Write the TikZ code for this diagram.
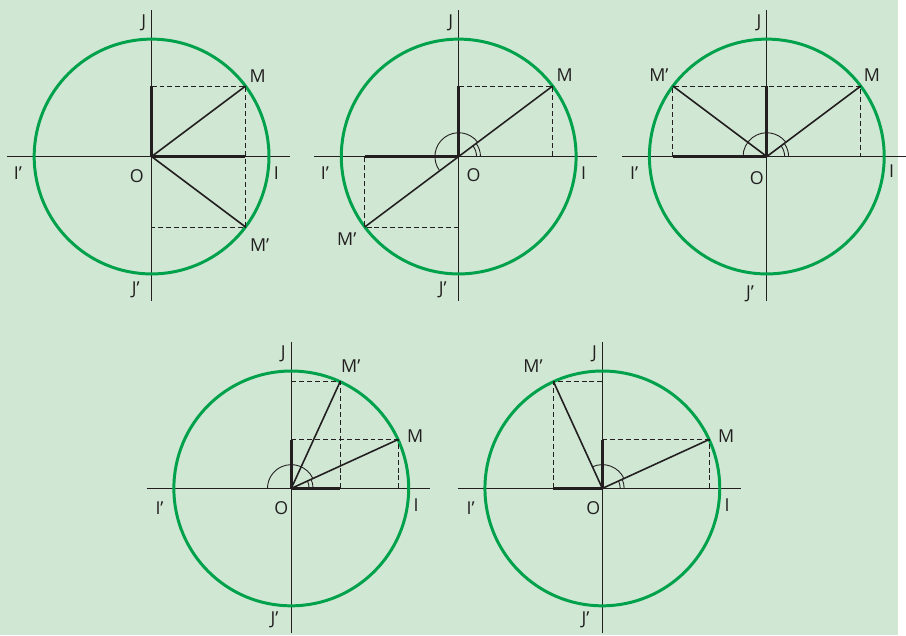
\documentclass[tikz,border=0pt]{standalone}
\usepackage{fontspec}
\setmainfont{Open Sans}
\usepackage{tikz}
\usetikzlibrary{calc}
\definecolor{bggreen}{RGB}{207,231,211}
\definecolor{circgreen}{RGB}{0,161,75}
\definecolor{inkgray}{RGB}{35,31,32}
\newcommand{\lblfont}{\fontsize{18pt}{21pt}\selectfont}

\begin{document}
\begin{tikzpicture}[x=1pt, y=1pt,
  axis/.style={draw=inkgray, line width=1pt},
  circ/.style={draw=circgreen, line width=3pt},
  rayline/.style={draw=inkgray, line width=1.6pt},
  proj/.style={draw=inkgray, line width=3pt},
  guide/.style={draw=inkgray, line width=0.9pt, dash pattern=on 5pt off 3pt},
  anglemark/.style={draw=inkgray, line width=0.9pt},
  lbl/.style={font=\lblfont, text=inkgray, inner sep=0pt}
]
\def\R{118.5}

% === background ==============================================================
\fill[bggreen] (0,0) rectangle (906,641);

% === Panel 1 : M and M' symmetric about (OI) =================================
\begin{scope}[shift={(153,483)}]
  \coordinate (O1)  at (0,0);
  \coordinate (M1)  at (36.87:\R);
  \coordinate (Mp1) at (-36.87:\R);
  \draw[axis] (-146,0) -- (140,0);
  \draw[axis] (0,-146) -- (0,148);
  \draw[circ] (O1) circle (\R);
  \draw[guide] (O1 |- M1) -- (M1) -- (Mp1) -- (O1 |- Mp1);
  \draw[proj] (O1) -- (O1 |- M1);
  \draw[proj] (O1) -- (O1 -| M1);
  \draw[rayline] (O1) -- (M1);
  \draw[rayline] (O1) -- (Mp1);
  \node[lbl] (lJ1)  at (-8,135)    {J};
  \node[lbl] (lJp1) at (-16,-135)  {J’};
  \node[lbl] (lI1)  at (126,-17)   {I};
  \node[lbl] (lIp1) at (-135,-17)  {I’};
  \node[lbl] (lO1)  at (-15,-20)   {O};
  \node[lbl] (lM1)  at (107,81)    {M};
  \node[lbl] (lMp1) at (109,-89)   {M’};
\end{scope}

% === Panel 2 : M' = M + pi ===================================================
\begin{scope}[shift={(463,483)}]
  \coordinate (O2)  at (0,0);
  \coordinate (M2)  at (36.87:\R);
  \coordinate (Mp2) at (216.87:\R);
  \draw[axis] (-146,0) -- (140,0);
  \draw[axis] (0,-146) -- (0,148);
  \draw[circ] (O2) circle (\R);
  \draw[guide] (O2 |- M2) -- (M2) -- (M2 |- O2);
  \draw[guide] (O2 |- Mp2) -- (Mp2) -- (Mp2 |- O2);
  \draw[proj] (O2) -- (O2 |- M2);
  \draw[proj] (O2) -- (O2 -| Mp2);
  \draw[rayline] (Mp2) -- (M2);
  \draw[anglemark] (0:18) arc (0:36.87:18);
  \draw[anglemark] (0:22) arc (0:36.87:22);
  \draw[anglemark] (36.87:24) arc (36.87:216.87:24);
  \node[lbl] (lJ2)  at (-8,135)    {J};
  \node[lbl] (lJp2) at (-16,-135)  {J’};
  \node[lbl] (lI2)  at (126,-17)   {I};
  \node[lbl] (lIp2) at (-135,-17)  {I’};
  \node[lbl] (lO2)  at (15,-19)    {O};
  \node[lbl] (lM2)  at (107,82)    {M};
  \node[lbl] (lMp2) at (-113,-83)  {M’};
\end{scope}

% === Panel 3 : M' = pi - M ===================================================
\begin{scope}[shift={(774,483)}]
  \coordinate (O3)  at (0,0);
  \coordinate (M3)  at (36.87:\R);
  \coordinate (Mp3) at (143.13:\R);
  \draw[axis] (-146,0) -- (140,0);
  \draw[axis] (0,-146) -- (0,148);
  \draw[circ] (O3) circle (\R);
  \draw[guide] (Mp3 |- O3) -- (Mp3) -- (M3) -- (M3 |- O3);
  \draw[proj] (O3) -- (O3 |- M3);
  \draw[proj] (O3) -- (O3 -| Mp3);
  \draw[rayline] (O3) -- (M3);
  \draw[rayline] (O3) -- (Mp3);
  \draw[anglemark] (0:18) arc (0:36.87:18);
  \draw[anglemark] (0:22) arc (0:36.87:22);
  \draw[anglemark] (36.87:24) arc (36.87:180:24);
  \node[lbl] (lJ3)  at (-8,135)    {J};
  \node[lbl] (lJp3) at (-17,-139)  {J’};
  \node[lbl] (lI3)  at (126,-15)   {I};
  \node[lbl] (lIp3) at (-134,-17)  {I’};
  \node[lbl] (lO3)  at (-10,-22)   {O};
  \node[lbl] (lM3)  at (106,82)    {M};
  \node[lbl] (lMp3) at (-109,82)   {M’};
\end{scope}

% === Panel 4 : M' = pi/2 - M =================================================
\begin{scope}[shift={(294,148)}]
  \coordinate (O4)  at (0,0);
  \coordinate (M4)  at (24.6:\R);
  \coordinate (Mp4) at (65.4:\R);
  \draw[axis] (-146,0) -- (140,0);
  \draw[axis] (0,-146) -- (0,148);
  \draw[circ] (O4) circle (\R);
  \draw[guide] (O4 |- M4) -- (M4) -- (M4 |- O4);
  \draw[guide] (O4 |- Mp4) -- (Mp4) -- (Mp4 |- O4);
  \draw[proj] (O4) -- (O4 |- M4);
  \draw[proj] (O4) -- (O4 -| Mp4);
  \draw[rayline] (O4) -- (M4);
  \draw[rayline] (O4) -- (Mp4);
  \draw[anglemark] (0:18) arc (0:24.6:18);
  \draw[anglemark] (0:22) arc (0:24.6:22);
  \draw[anglemark] (24.6:24) arc (24.6:180:24);
  \node[lbl] (lJ4)  at (-8,136)    {J};
  \node[lbl] (lJp4) at (-17,-133)  {J’};
  \node[lbl] (lI4)  at (126,-17)   {I};
  \node[lbl] (lIp4) at (-133,-20)  {I’};
  \node[lbl] (lO4)  at (-10,-20)   {O};
  \node[lbl] (lM4)  at (125,53)    {M};
  \node[lbl] (lMp4) at (60,123)    {M’};
\end{scope}

% === Panel 5 : M' = pi/2 + M =================================================
\begin{scope}[shift={(608,148)}]
  \coordinate (O5)  at (0,0);
  \coordinate (M5)  at (24.6:\R);
  \coordinate (Mp5) at (114.6:\R);
  \draw[axis] (-146,0) -- (140,0);
  \draw[axis] (0,-146) -- (0,148);
  \draw[circ] (O5) circle (\R);
  \draw[guide] (O5 |- M5) -- (M5) -- (M5 |- O5);
  \draw[guide] (O5 |- Mp5) -- (Mp5) -- (Mp5 |- O5);
  \draw[proj] (O5) -- (O5 |- M5);
  \draw[proj] (O5) -- (O5 -| Mp5);
  \draw[rayline] (O5) -- (M5);
  \draw[rayline] (O5) -- (Mp5);
  \draw[anglemark] (0:18) arc (0:24.6:18);
  \draw[anglemark] (0:22) arc (0:24.6:22);
  \draw[anglemark] (24.6:24) arc (24.6:114.6:24);
  \node[lbl] (lJ5)  at (-8,136)    {J};
  \node[lbl] (lJp5) at (-17,-133)  {J’};
  \node[lbl] (lI5)  at (126,-17)   {I};
  \node[lbl] (lIp5) at (-133,-20)  {I’};
  \node[lbl] (lO5)  at (-9,-20)    {O};
  \node[lbl] (lM5)  at (125,53)    {M};
  \node[lbl] (lMp5) at (-70,123)   {M’};
\end{scope}

\end{tikzpicture}
\end{document}
